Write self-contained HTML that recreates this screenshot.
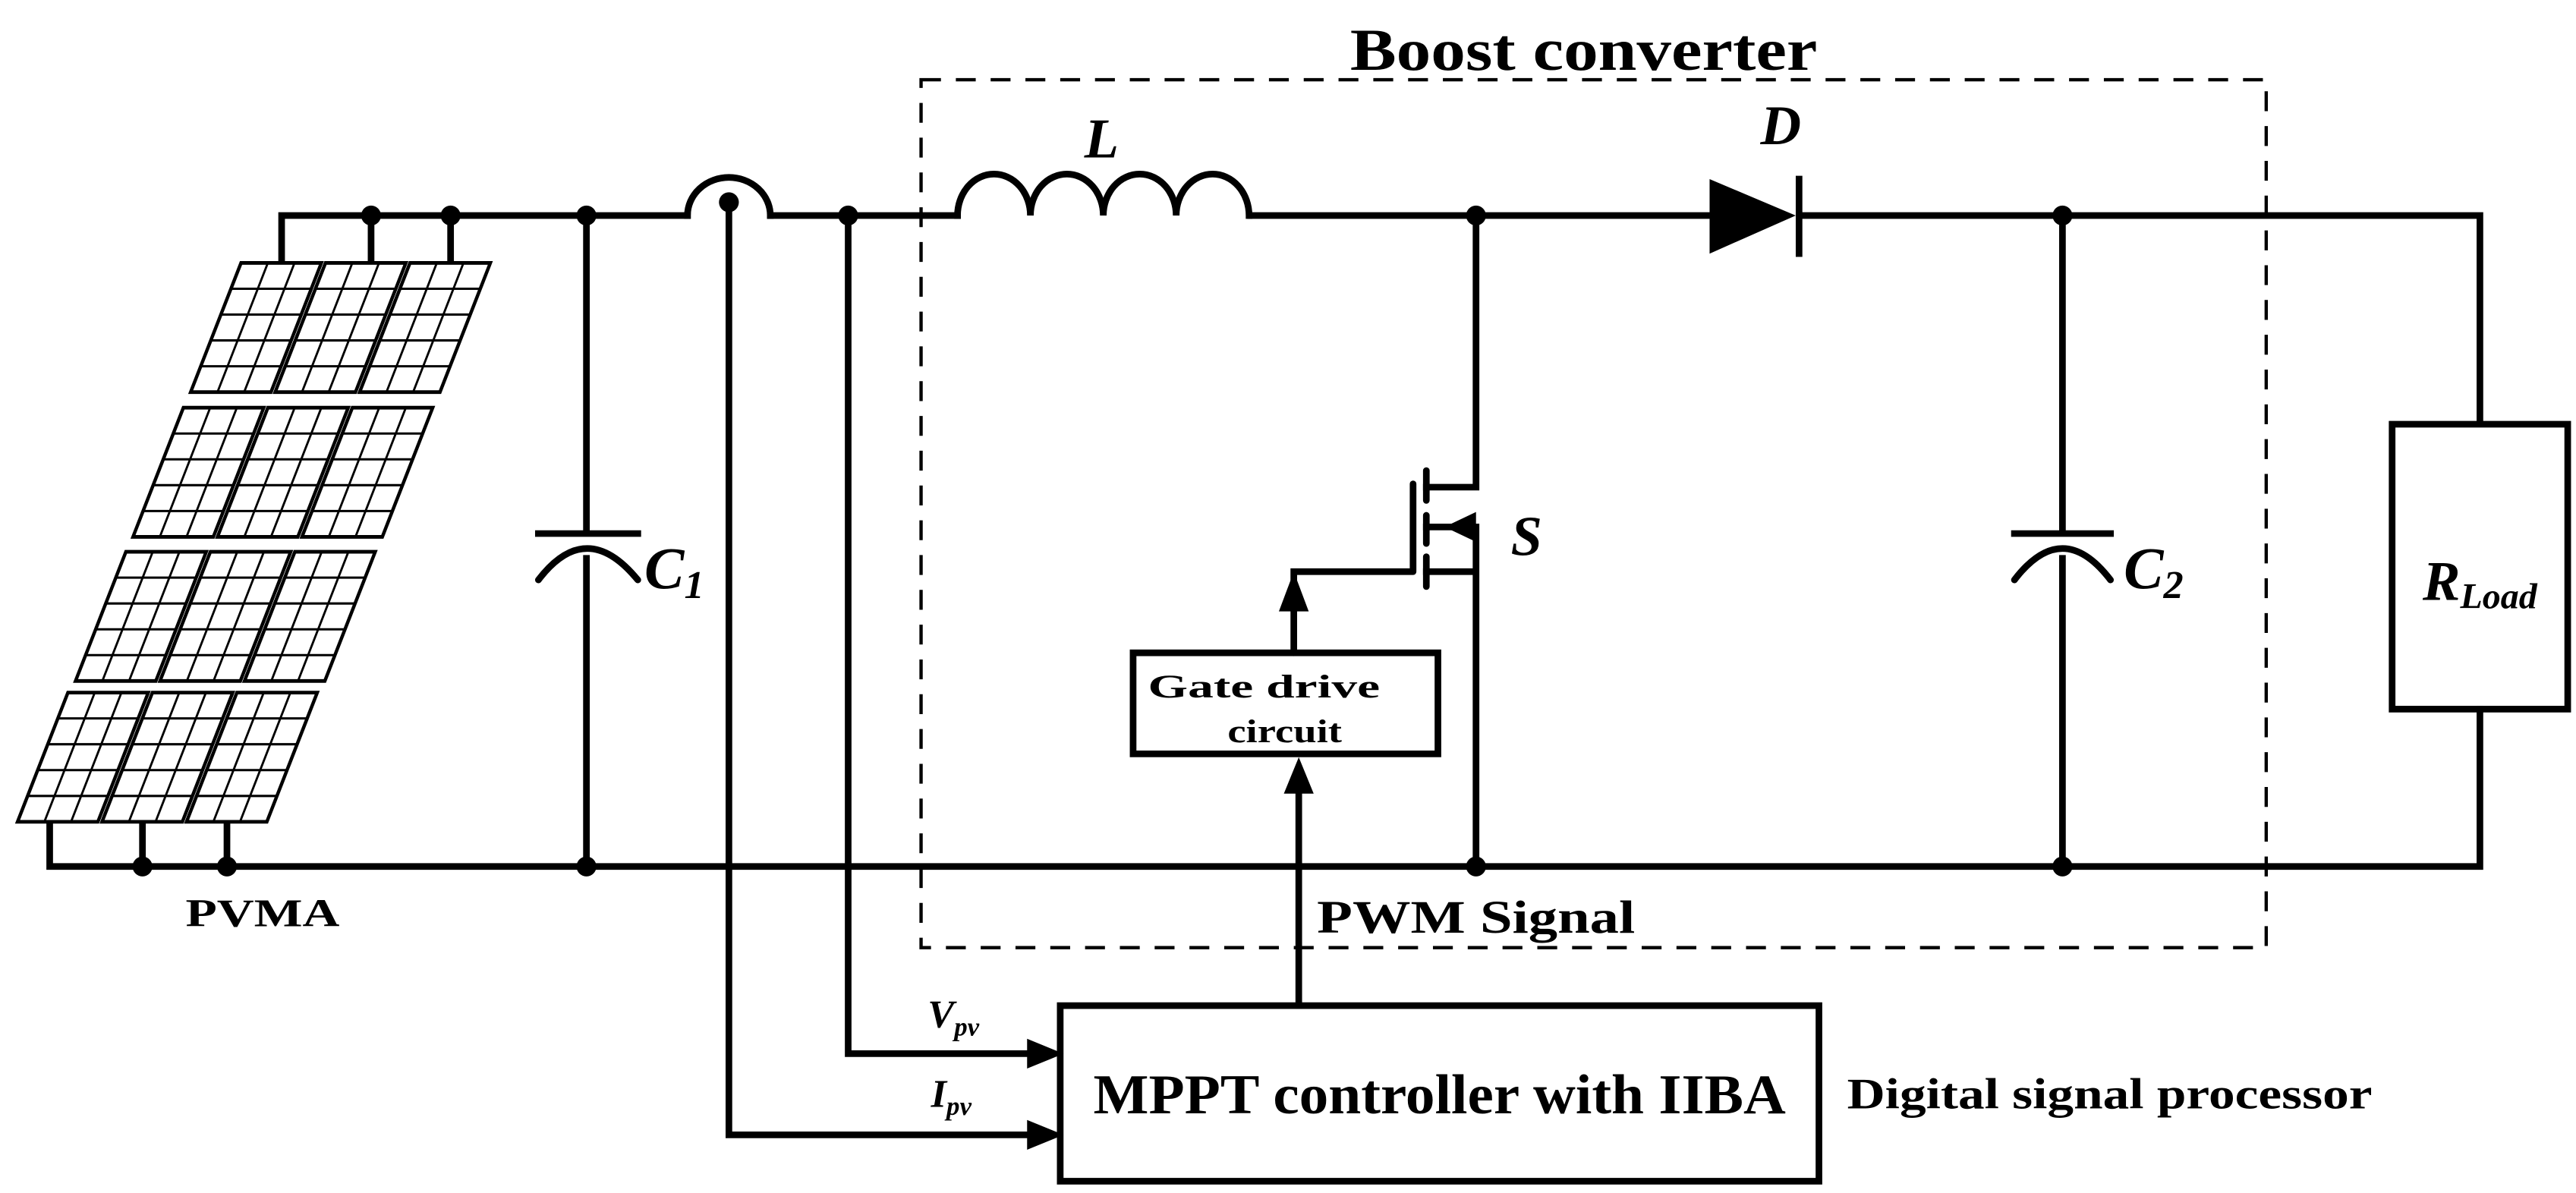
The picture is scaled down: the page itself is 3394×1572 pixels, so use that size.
<!DOCTYPE html>
<html><head><meta charset="utf-8"><style>
html,body{margin:0;padding:0;background:#fff}
svg{display:block}
text{font-family:"Liberation Serif",serif;font-weight:bold;fill:#000}
</style></head><body>
<svg width="3394" height="1572" viewBox="0 0 1555 720" xmlns="http://www.w3.org/2000/svg">
<defs>
<g id="pn">
<rect x="0" y="0" width="48.5" height="78" fill="#fff" stroke="#000" stroke-width="2.2"/>
<path d="M16.2 0V78M32.3 0V78M0 15.6H48.5M0 31.2H48.5M0 46.8H48.5M0 62.4H48.5" stroke="#000" stroke-width="1.4" fill="none"/>
</g>
</defs>
<rect width="1555" height="720" fill="#fff"/>
<g stroke="#000" stroke-width="4" fill="none" stroke-linecap="square">
<path d="M170 158V130H415M465 130H578M755 130H1030M1088 130H1497V255"/>
<path d="M30 496V523H1497V428"/>
<path d="M86 496V523M137 496V523M224 130V158M272 130V158"/>
<path d="M415 130A25 23 0 0 1 465 130"/>
<path d="M578 130A22 25 0 0 1 622 130A22 25 0 0 1 666 130A22 25 0 0 1 710 130A22 25 0 0 1 754 130"/>
<path d="M354 130V322M325 322H385M354 337V523"/>
<path d="M325 350Q354 312 385 350" stroke-linecap="round"/>
<path d="M1245 130V322M1216 322H1274M1245 337V523"/>
<path d="M1216 350Q1245 312 1274 350" stroke-linecap="round"/>
<rect x="1444" y="256" width="106" height="172"/>
<path d="M891 130V294H861M891 318V523M861 345H891M861 318H878"/>
<path d="M861 284V302M861 311V328M861 336V354M853 292V345M853 345H781V394" stroke-linecap="round"/>
<rect x="684" y="394" width="184" height="61"/>
<path d="M784 479V607"/>
<path d="M512 130V636H625M440 122V685H625"/>
<rect x="640" y="607" width="458" height="106"/>
</g>
<polygon points="1032,108 1032,153 1084,130" fill="#000"/>
<path d="M1086 106V155" stroke="#000" stroke-width="4"/>
<polygon points="872,318 891,309 891,327" fill="#000"/>
<polygon points="781,345 772,369 790,369" fill="#000"/>
<polygon points="784,457 775,479 793,479" fill="#000"/>
<polygon points="642,636 620,627 620,645" fill="#000"/>
<polygon points="642,685 620,676 620,694" fill="#000"/>
<g fill="#000">
<circle cx="224" cy="130" r="6"/><circle cx="272" cy="130" r="6"/>
<circle cx="354" cy="130" r="6"/><circle cx="354" cy="523" r="6"/>
<circle cx="440" cy="122" r="6"/><circle cx="512" cy="130" r="6"/>
<circle cx="891" cy="130" r="6"/><circle cx="891" cy="523" r="6"/>
<circle cx="1245" cy="130" r="6"/><circle cx="1245" cy="523" r="6"/>
<circle cx="86" cy="523" r="6"/><circle cx="137" cy="523" r="6"/>
</g>
<rect x="556" y="48" width="812" height="524" fill="none" stroke="#000" stroke-width="2" stroke-dasharray="12 9"/>
<g>
<use href="#pn" transform="translate(145.5,158.6) skewX(-21.3)"/>
<use href="#pn" transform="translate(196.5,158.6) skewX(-21.3)"/>
<use href="#pn" transform="translate(247.5,158.6) skewX(-21.3)"/>
<use href="#pn" transform="translate(110.7,246) skewX(-21.3)"/>
<use href="#pn" transform="translate(161.7,246) skewX(-21.3)"/>
<use href="#pn" transform="translate(212.7,246) skewX(-21.3)"/>
<use href="#pn" transform="translate(76,333) skewX(-21.3)"/>
<use href="#pn" transform="translate(127,333) skewX(-21.3)"/>
<use href="#pn" transform="translate(178,333) skewX(-21.3)"/>
<use href="#pn" transform="translate(41,418) skewX(-21.3)"/>
<use href="#pn" transform="translate(92,418) skewX(-21.3)"/>
<use href="#pn" transform="translate(143,418) skewX(-21.3)"/>
</g>
<text x="815" y="42" font-size="36" textLength="282" lengthAdjust="spacingAndGlyphs">Boost converter</text>
<text x="665" y="95" font-size="34" font-style="italic" text-anchor="middle">L</text>
<text x="1075" y="87" font-size="34" font-style="italic" text-anchor="middle">D</text>
<text x="912" y="335" font-size="34" font-style="italic">S</text>
<text x="389" y="355" font-size="36" font-style="italic">C<tspan font-size="24" dy="6">1</tspan></text>
<text x="1282" y="355" font-size="36" font-style="italic">C<tspan font-size="24" dy="6">2</tspan></text>
<text x="1497" y="362" font-size="34" font-style="italic" text-anchor="middle">R<tspan font-size="22" dy="5">Load</tspan></text>
<text x="693" y="421" font-size="20" textLength="140" lengthAdjust="spacingAndGlyphs">Gate drive</text>
<text x="741" y="448" font-size="20" textLength="69" lengthAdjust="spacingAndGlyphs">circuit</text>
<text x="112" y="559" font-size="24" textLength="93" lengthAdjust="spacingAndGlyphs">PVMA</text>
<text x="795" y="563" font-size="28" textLength="192" lengthAdjust="spacingAndGlyphs">PWM Signal</text>
<text x="660" y="672" font-size="34" textLength="418" lengthAdjust="spacingAndGlyphs">MPPT controller with IIBA</text>
<text x="1115" y="669" font-size="26" textLength="317" lengthAdjust="spacingAndGlyphs">Digital signal processor</text>
<text x="560" y="620" font-size="24" font-style="italic" font-weight="normal">V<tspan font-size="16" dy="5">pv</tspan></text>
<text x="562" y="668" font-size="24" font-style="italic" font-weight="normal">I<tspan font-size="16" dy="5">pv</tspan></text>
</svg>
</body></html>
